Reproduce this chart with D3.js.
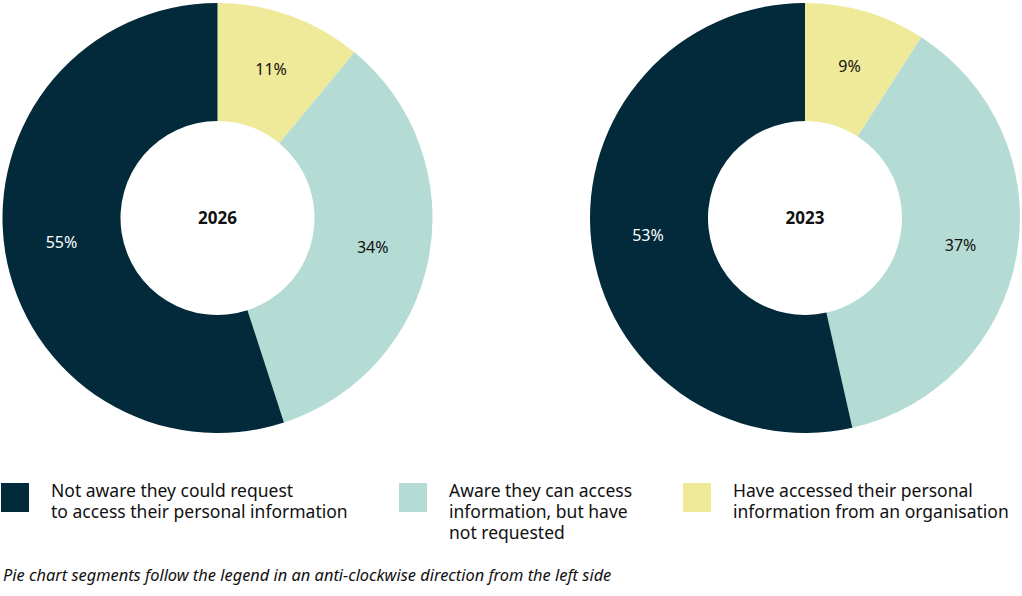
<!DOCTYPE html>
<html>
<head>
<meta charset="utf-8">
<script src="https://cdn.jsdelivr.net/npm/d3@7"></script>
<style>
  body { margin: 0; background: #fff; }
  text { font-family: 'Noto Sans', sans-serif; fill: #111; }
</style>
</head>
<body>
<div id="chart"></div>
<script>
let categories = [
  'Have accessed their personal information from an organisation',
  'Aware they can access information, but have not requested',
  'Not aware they could request to access their personal information'
]
let years = ['2026', '2023']
let values2026 = [11, 34, 55]
let values2023 = [9, 37, 53]
let colors = ['#efe99a', '#b5dcd4', '#022a3a']

let legendLines = [
  ['Not aware they could request', 'to access their personal information'],
  ['Aware they can access', 'information, but have', 'not requested'],
  ['Have accessed their personal', 'information from an organisation']
]
let legendColors = ['#022a3a', '#b5dcd4', '#efe99a']
let note = 'Pie chart segments follow the legend in an anti-clockwise direction from the left side'

let width = 1022
let height = 596

let svg = d3
  .select('#chart')
  .append('svg')
  .attr('width', width)
  .attr('height', height)

let pie = d3.pie().sort(null).value(d => d)
let arc = d3.arc().innerRadius(97).outerRadius(215)
let labelArc = d3.arc().innerRadius(158).outerRadius(158)

let donuts = [
  { year: years[0], values: values2026, cx: 217.5 },
  { year: years[1], values: values2023, cx: 805 }
]

donuts.forEach(donut => {
  let g = svg
    .append('g')
    .attr('transform', `translate(${donut.cx},218)`)

  let slices = pie(donut.values)

  g.selectAll('.slice')
    .data(slices)
    .enter()
    .append('path')
    .attr('class', 'slice')
    .attr('d', arc)
    .attr('fill', (d, i) => colors[i])

  g.selectAll('.label')
    .data(slices)
    .enter()
    .append('text')
    .attr('class', 'label')
    .attr('transform', d => `translate(${labelArc.centroid(d)})`)
    .attr('text-anchor', 'middle')
    .attr('dy', '0.35em')
    .attr('font-size', 16)
    .style('fill', (d, i) => (i === 2 ? '#fff' : '#111'))
    .text(d => d.data + '%')

  g.append('text')
    .attr('text-anchor', 'middle')
    .attr('dy', '0.35em')
    .attr('font-size', 17)
    .attr('font-weight', 'bold')
    .text(donut.year)
})

// legend
let legendX = [1, 399, 683]
let legend = svg
  .selectAll('.legend')
  .data(legendLines)
  .enter()
  .append('g')
  .attr('class', 'legend')
  .attr('transform', (d, i) => `translate(${legendX[i]},483)`)

legend
  .append('rect')
  .attr('width', 28)
  .attr('height', 29)
  .attr('fill', (d, i) => legendColors[i])

legend
  .append('text')
  .attr('y', 14)
  .attr('font-size', 17.5)
  .selectAll('tspan')
  .data(d => d)
  .enter()
  .append('tspan')
  .attr('x', 50)
  .attr('dy', (d, i) => (i === 0 ? 0 : 21))
  .text(d => d)

svg
  .append('text')
  .attr('x', 3)
  .attr('y', 581)
  .attr('font-size', 16.4)
  .attr('font-style', 'italic')
  .text(note)
</script>
</body>
</html>
